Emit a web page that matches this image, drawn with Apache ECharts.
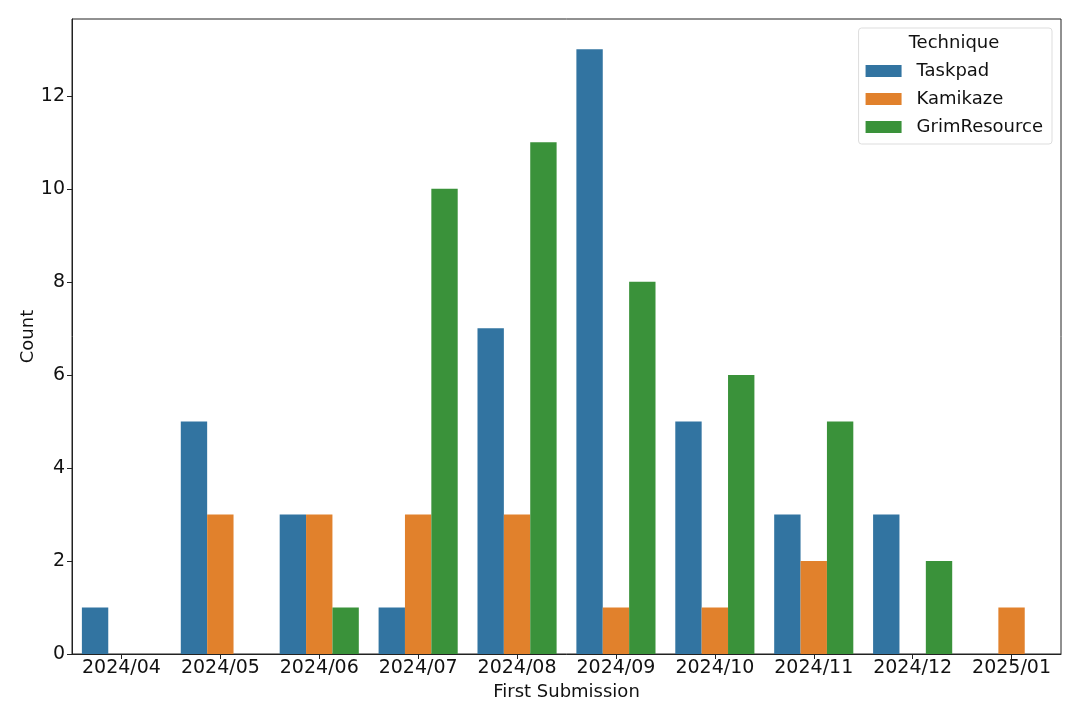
<!DOCTYPE html>
<html><head><meta charset="utf-8">
<script src="https://cdn.jsdelivr.net/npm/echarts@6/dist/echarts.min.js"></script>
<style>html,body{margin:0;padding:0;background:#fff}#c{width:1080px;height:720px}</style>
</head><body><div id="c"></div>
<script>
const categories = ["2024/04","2024/05","2024/06","2024/07","2024/08","2024/09","2024/10","2024/11","2024/12","2025/01"];
const taskpad = [1,5,3,1,7,13,5,3,3,0];
const kamikaze = [0,3,3,3,3,1,1,2,0,1];
const grimResource = [0,0,1,10,11,8,6,5,2,0];
const yTicks = [0,2,4,6,8,10,12];
const seriesNames = ["Taskpad","Kamikaze","GrimResource"];
const colors = ["#3274a1","#e1812c","#3a923a"];
const FONT = "DejaVu Sans";
const chart = echarts.init(document.getElementById('c'), null, {renderer:'canvas'});
const mk = (name, data, color) => ({
  name, type:'bar', data, barGap:'0%', barCategoryGap:'20%',
  itemStyle:{color}, emphasis:{disabled:true}, animation:false
});
chart.setOption({
  animation:false,
  textStyle:{fontFamily:FONT},
  grid:{left:72,right:19,top:19,bottom:66,containLabel:false,show:true,borderColor:'#222',borderWidth:1},
  xAxis:{type:'category',data:categories,name:'First Submission',nameLocation:'middle',nameGap:27,
    nameTextStyle:{fontSize:18,color:'#111',fontFamily:FONT},
    axisLine:{show:true,lineStyle:{color:'#222',width:1}},
    axisTick:{show:true,alignWithLabel:true,interval:0,length:5,lineStyle:{color:'#222'}},
    axisLabel:{fontSize:19,color:'#111',margin:5,fontFamily:FONT,interval:0,hideOverlap:false},
    splitLine:{show:false}},
  yAxis:{type:'value',min:0,max:13.65,name:'Count',nameLocation:'middle',nameGap:35,nameMoveOverlap:false,
    nameTextStyle:{fontSize:18,color:'#111',fontFamily:FONT},
    axisLine:{show:true,lineStyle:{color:'#222',width:1}},
    axisTick:{show:true,length:5,lineStyle:{color:'#222'},customValues:yTicks},
    axisLabel:{fontSize:19,color:'#111',margin:7,fontFamily:FONT,customValues:yTicks},
    splitLine:{show:false}},
  legend:{orient:'vertical',right:28,top:28,itemWidth:36,itemHeight:12,itemGap:10,
    padding:[34,9,8,7],backgroundColor:'#fff',borderColor:'#ddd',borderWidth:1,borderRadius:3,
    icon:'rect',data:seriesNames,
    textStyle:{fontSize:18,color:'#111',fontFamily:FONT,padding:[0,0,0,10]}},
  graphic:[{type:'text',x:954,y:34,z:100,
    style:{text:'Technique',fontSize:18,fill:'#111',fontFamily:FONT,textAlign:'center',textVerticalAlign:'top'}}],
  series:[mk(seriesNames[0],taskpad,colors[0]),mk(seriesNames[1],kamikaze,colors[1]),mk(seriesNames[2],grimResource,colors[2])]
});
</script></body></html>
